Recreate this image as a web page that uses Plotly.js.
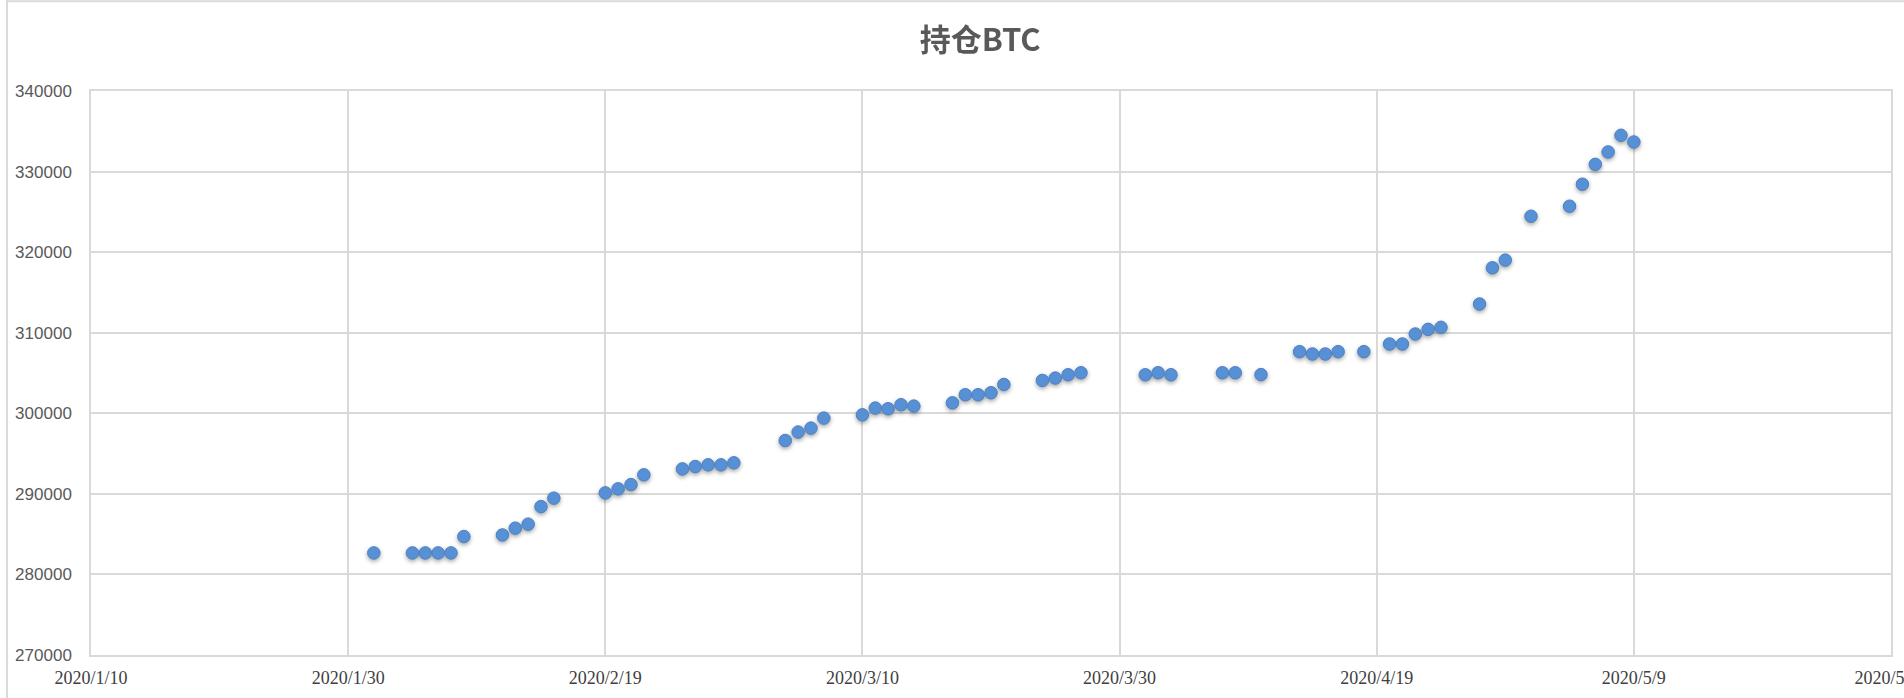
<!DOCTYPE html>
<html>
<head>
<meta charset="utf-8">
<script src="https://cdn.plot.ly/plotly-3.0.1.min.js"></script>
<style>
  html, body { margin: 0; padding: 0; background: #ffffff; overflow: hidden; }
  #chart { width: 1904px; height: 698px; }
  .scatterlayer { filter: drop-shadow(0px 2px 2px rgba(0,0,0,0.35)); }
</style>
</head>
<body>
<div id="chart"></div>
<script>
// ---- data ----
const dates = [
  '2020-02-01','2020-02-04','2020-02-05','2020-02-06','2020-02-07','2020-02-08',
  '2020-02-11','2020-02-12','2020-02-13','2020-02-14','2020-02-15',
  '2020-02-19','2020-02-20','2020-02-21','2020-02-22',
  '2020-02-25','2020-02-26','2020-02-27','2020-02-28','2020-02-29',
  '2020-03-04','2020-03-05','2020-03-06','2020-03-07',
  '2020-03-10','2020-03-11','2020-03-12','2020-03-13','2020-03-14',
  '2020-03-17','2020-03-18','2020-03-19','2020-03-20','2020-03-21',
  '2020-03-24','2020-03-25','2020-03-26','2020-03-27',
  '2020-04-01','2020-04-02','2020-04-03',
  '2020-04-07','2020-04-08','2020-04-10',
  '2020-04-13','2020-04-14','2020-04-15','2020-04-16','2020-04-18',
  '2020-04-20','2020-04-21','2020-04-22','2020-04-23','2020-04-24',
  '2020-04-27','2020-04-28','2020-04-29','2020-05-01',
  '2020-05-04','2020-05-05','2020-05-06','2020-05-07','2020-05-08','2020-05-09'
];
const btcHeld = [
  282670, 282670, 282670, 282670, 282670, 284700,
  284900, 285740, 286240, 288420, 289470,
  290120, 290620, 291150, 292360,
  293100, 293390, 293600, 293600, 293850,
  296620, 297670, 298160, 299400,
  299810, 300650, 300560, 301060, 300890,
  301300, 302300, 302300, 302550, 303580,
  304080, 304370, 304780, 305030,
  304780, 305030, 304780,
  305030, 305030, 304800,
  307650, 307360, 307360, 307650, 307650,
  308600, 308600, 309840, 310420, 310670,
  313560, 318060, 319010, 324460,
  325700, 328430, 330900, 332430, 334500, 333670
];
const xTickVals = ['2020-01-10','2020-01-30','2020-02-19','2020-03-10','2020-03-30','2020-04-19','2020-05-09','2020-05-29'];
const xTickText = ['2020/1/10','2020/1/30','2020/2/19','2020/3/10','2020/3/30','2020/4/19','2020/5/9','2020/5/29'];
const chartTitle = '持仓BTC';

const trace = {
  type: 'scatter',
  mode: 'markers',
  x: dates,
  y: btcHeld,
  marker: { size: 12.5, color: '#5790d5', line: { color: '#4a80c4', width: 1 } },
  hoverinfo: 'x+y'
};

const layout = {
  width: 1904,
  height: 698,
  paper_bgcolor: '#ffffff',
  plot_bgcolor: '#ffffff',
  margin: { l: 91, r: 13, t: 91, b: 43 },
  showlegend: false,
  title: {
    text: '<b>' + chartTitle + '</b>',
    x: 0.494, xanchor: 'center', xref: 'paper',
    y: 0.9427, yref: 'container', yanchor: 'middle',
    font: { family: 'Noto Sans CJK SC, Noto Sans, sans-serif', size: 31, color: '#595959' }
  },
  xaxis: {
    type: 'date',
    range: ['2020-01-10', '2020-05-29'],
    tickmode: 'array',
    tickvals: xTickVals,
    ticktext: xTickText,
    showgrid: true,
    gridcolor: '#d9d9d9',
    gridwidth: 1.5,
    zeroline: false,
    showline: true,
    mirror: true,
    linecolor: '#d9d9d9',
    linewidth: 1.5,
    ticks: '',
    ticklabelstandoff: 6,
    ticklabeloverflow: 'allow',
    tickfont: { family: 'Liberation Serif, Times New Roman, serif', size: 18, color: '#404040' }
  },
  yaxis: {
    range: [270000, 340000],
    dtick: 10000,
    tick0: 270000,
    tickformat: 'd',
    showgrid: true,
    gridcolor: '#d9d9d9',
    gridwidth: 1.5,
    zeroline: false,
    showline: true,
    mirror: true,
    linecolor: '#d9d9d9',
    linewidth: 1.5,
    ticks: '',
    ticklabelstandoff: 14,
    tickfont: { family: 'Liberation Sans, Arial, sans-serif', size: 17, color: '#595959' }
  },
  shapes: [
    { type: 'line', xref: 'paper', yref: 'paper', x0: -0.0467, x1: -0.0467, y0: -0.1, y1: 1.17,
      line: { color: '#d9d9d9', width: 2 } },
    { type: 'line', xref: 'paper', yref: 'paper', x0: -0.0467, x1: 1.01, y0: 1.159, y1: 1.159,
      line: { color: '#d9d9d9', width: 2 } }
  ]
};

Plotly.newPlot('chart', [trace], layout, { displayModeBar: false, responsive: false });
</script>
</body>
</html>
